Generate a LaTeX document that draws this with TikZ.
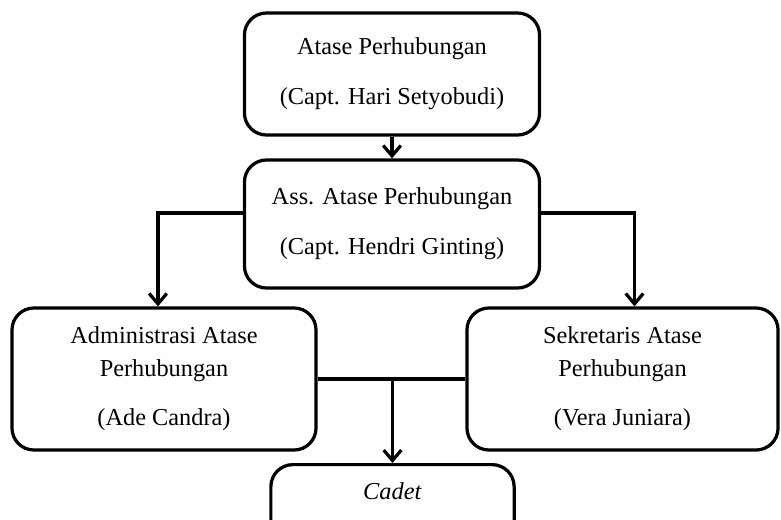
\documentclass[tikz,border=0pt]{standalone}
\usepackage{fontspec}
\setmainfont{Liberation Serif}
\usetikzlibrary{arrows.meta}
\tikzset{
  unit/.style={draw, line width=2.3pt, rounded corners=0.55cm, align=center, inner sep=0pt},
  link/.style={line width=2.3pt, -{Straight Barb[length=0.26cm, width=0.44cm]}},
}
\begin{document}
\begin{tikzpicture}[x=0.025cm, y=-0.025cm, font=\fontsize{17.3}{23.5}\selectfont]
    \clip (0, 0) rectangle (781, 519);
    \fill[white] (0, 0) rectangle (781, 519);
    \node[unit, minimum width=7.375cm, minimum height=3.05cm] (atase) at (392, 74)
          {Atase Perhubungan\\[12pt](Capt. Hari Setyobudi)};
    \node[unit, minimum width=7.375cm, minimum height=3.2cm] (ass) at (392, 224)
          {Ass. Atase Perhubungan\\[12pt](Capt. Hendri Ginting)};
    \node[unit, minimum width=7.6cm, minimum height=3.55cm] (admin) at (164, 379)
          {Administrasi Atase\\Perhubungan\\[11.5pt](Ade Candra)};
    \node[unit, minimum width=7.775cm, minimum height=3.55cm] (sekre) at (622.5, 379)
          {Sekretaris Atase\\Perhubungan\\[11.5pt](Vera Juniara)};
    \node[unit, anchor=north, minimum width=6.08cm, text height=0.875cm, text depth=2cm] (cadet) at (392.5, 463)
          {\textit{Cadet}};
    \draw[link] (atase) -- (ass);
    \draw[link] ([yshift=0.275cm]ass.west) -| ([xshift=-0.15cm]admin.north);
    \draw[link] ([yshift=0.275cm]ass.east) -| ([xshift=0.3cm]sekre.north);
    \draw[line width=2.3pt] (admin.east) -- (sekre.west);
    \draw[link] (admin.east -| cadet.north) -- (cadet.north);
  \end{tikzpicture}
\end{document}
